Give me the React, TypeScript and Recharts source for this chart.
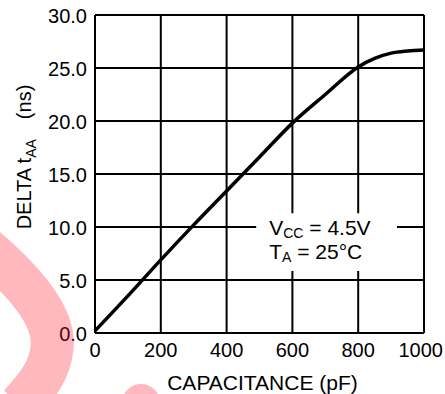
import React from 'react';
import { LineChart, Line, XAxis, YAxis, CartesianGrid, ReferenceArea } from 'recharts';

const capacitance = [0, 100, 200, 300, 400, 500, 600, 700, 800, 850, 900, 950, 1000];
const deltaTaa = [0.2, 3.5, 6.9, 10.2, 13.4, 16.6, 19.8, 22.5, 25.1, 25.9, 26.4, 26.6, 26.7];
const xTicks = [0, 200, 400, 600, 800, 1000];
const yTicks = [0, 5, 10, 15, 20, 25, 30];

const data = capacitance.map((c, i) => ({ c, v: deltaTaa[i] }));

const FONT = '"Liberation Sans", Arial, Helvetica, sans-serif';

const YTick = (props: any) => {
  const { y, payload } = props;
  return (
    <text x={87} y={y + 8} textAnchor="end" fontSize={20} fontFamily={FONT} fill="#000">
      {Number(payload.value).toFixed(1)}
    </text>
  );
};

const XTick = (props: any) => {
  const { x, payload } = props;
  const isLast = payload.value === 1000;
  return (
    <text
      x={isLast ? 443 : x}
      y={357}
      textAnchor={isLast ? 'end' : 'middle'}
      fontSize={20}
      fontFamily={FONT}
      fill="#000"
    >
      {payload.value}
    </text>
  );
};

const YLabel = () => (
  <text
    x={0}
    y={0}
    transform="translate(31,157) rotate(-90)"
    textAnchor="middle"
    fontSize={20}
    fontFamily={FONT}
    fill="#000"
  >
    <tspan>DELTA t</tspan>
    <tspan fontSize={14} dy={5}>AA</tspan>
    <tspan dy={-5} dx={20}>(ns)</tspan>
  </text>
);

const LegendLabel = (props: any) => {
  const vb = props.viewBox || {};
  const x0 = vb.x + 13;
  const y0 = vb.y + 22;
  return (
    <g fontFamily={FONT} fill="#000">
      <text x={x0} y={y0} fontSize={21}>
        <tspan>V</tspan>
        <tspan fontSize={14} dy={3}>CC</tspan>
        <tspan dy={-3}> = 4.5V</tspan>
      </text>
      <text x={x0} y={y0 + 24} fontSize={21}>
        <tspan>T</tspan>
        <tspan fontSize={14} dy={3}>A</tspan>
        <tspan dy={-3}> = 25°C</tspan>
      </text>
    </g>
  );
};

export default function App() {
  return (
    <div style={{ position: 'absolute', left: 0, top: 0, width: 445, height: 394, background: '#fff', overflow: 'hidden' }}>
      <LineChart width={445} height={394} data={data} margin={{ top: 15, right: 21, left: 0, bottom: 0 }}>
        <CartesianGrid stroke="#000" strokeWidth={2} strokeDasharray="" />
        <XAxis
          dataKey="c"
          type="number"
          domain={[0, 1000]}
          ticks={xTicks}
          height={61}
          tick={<XTick />}
          tickLine={false}
          axisLine={{ stroke: '#000', strokeWidth: 2 }}
          label={{ value: 'CAPACITANCE (pF)', position: 'insideBottom', offset: 4, fontSize: 21, fill: '#000', fontFamily: FONT, dx: 3 }}
        />
        <YAxis
          type="number"
          domain={[0, 30]}
          ticks={yTicks}
          width={95}
          tick={<YTick />}
          tickLine={false}
          axisLine={{ stroke: '#000', strokeWidth: 2 }}
          label={<YLabel />}
        />
        <ReferenceArea
          x1={490}
          x2={918}
          y1={5.85}
          y2={11.3}
          fill="#fff"
          fillOpacity={1}
          stroke="none"
          label={<LegendLabel />}
        />
        <Line
          type="monotone"
          dataKey="v"
          stroke="#000"
          strokeWidth={3.5}
          dot={false}
          isAnimationActive={false}
        />
      </LineChart>
      <svg
        width={445}
        height={394}
        style={{ position: 'absolute', left: 0, top: 0, pointerEvents: 'none' }}
      >
        <path
          d="M -18 245 C 35 290 55 322 52 348 C 50 370 38 385 20 405"
          fill="none"
          stroke="rgba(255,20,35,0.3)"
          strokeWidth={43}
        />
        <circle cx={141} cy={403} r={19} fill="rgba(255,20,35,0.3)" />
      </svg>
    </div>
  );
}
